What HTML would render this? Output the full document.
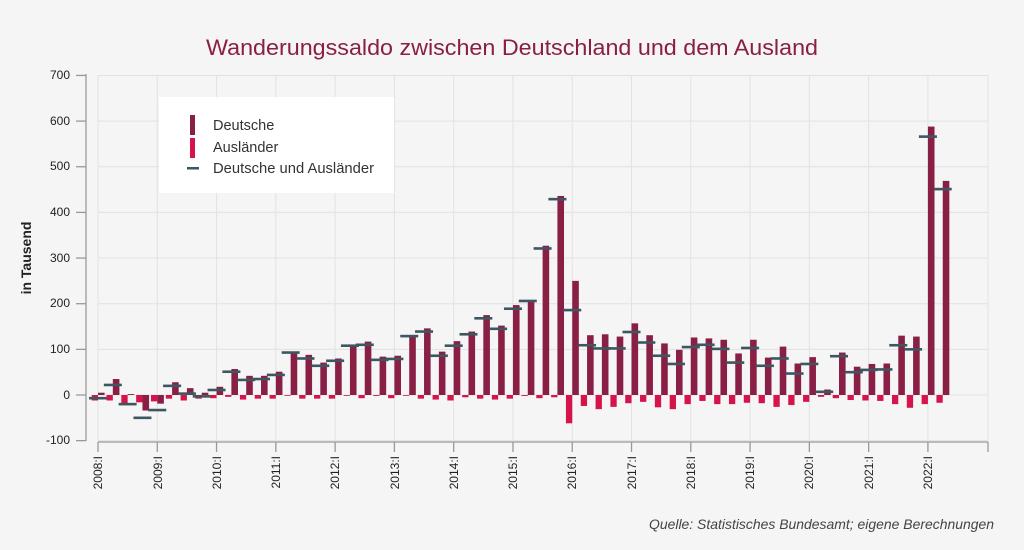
<!DOCTYPE html>
<html><head><meta charset="utf-8"><style>
html,body{margin:0;padding:0;background:#f5f5f5;}
svg{display:block;font-family:"Liberation Sans",sans-serif;}
</style></head><body>
<svg id="c" width="1024" height="550" viewBox="0 0 1024 550" xmlns="http://www.w3.org/2000/svg">
<rect width="1024" height="550" fill="#f5f5f5"/>
<g id="grid" stroke="#e2e2e2" stroke-width="1"></g>
<g id="bars"></g>
<text x="512" y="55" text-anchor="middle" font-size="22" textLength="612" lengthAdjust="spacingAndGlyphs" fill="#8a1f46">Wanderungssaldo zwischen Deutschland und dem Ausland</text>
<g font-size="12" fill="#222" text-anchor="end">
<text x="70" y="79">700</text><text x="70" y="125">600</text><text x="70" y="170">500</text><text x="70" y="216">400</text><text x="70" y="262">300</text><text x="70" y="307">200</text><text x="70" y="353">100</text><text x="70" y="399">0</text><text x="70" y="444">-100</text>
</g>
<text transform="translate(31,258) rotate(-90)" text-anchor="middle" font-size="14" font-weight="bold" fill="#222">in Tausend</text>
<g id="ax" stroke="#999" stroke-width="1.3" fill="none"></g>
<g font-size="12" fill="#222" text-anchor="end">
<text transform="translate(102,456) rotate(-90)">2008:I</text>
<text transform="translate(162,456) rotate(-90)">2009:I</text>
<text transform="translate(221,456) rotate(-90)">2010:I</text>
<text transform="translate(280,456) rotate(-90)">2011:I</text>
<text transform="translate(339,456) rotate(-90)">2012:I</text>
<text transform="translate(399,456) rotate(-90)">2013:I</text>
<text transform="translate(458,456) rotate(-90)">2014:I</text>
<text transform="translate(517,456) rotate(-90)">2015:I</text>
<text transform="translate(576,456) rotate(-90)">2016:I</text>
<text transform="translate(636,456) rotate(-90)">2017:I</text>
<text transform="translate(695,456) rotate(-90)">2018:I</text>
<text transform="translate(754,456) rotate(-90)">2019:I</text>
<text transform="translate(813,456) rotate(-90)">2020:I</text>
<text transform="translate(873,456) rotate(-90)">2021:I</text>
<text transform="translate(932,456) rotate(-90)">2022:I</text>
</g>
<rect x="159" y="97" width="235" height="96" fill="#fff"/>
<rect x="190" y="115" width="5" height="20" fill="#8a1f46"/>
<rect x="190" y="138" width="5" height="20" fill="#d4144a"/>
<rect x="187" y="167" width="12" height="2.5" fill="#3d5660"/>
<g font-size="14.5" fill="#333">
<text x="213" y="130">Deutsche</text>
<text x="213" y="152">Ausländer</text>
<text x="213" y="173" textLength="161" lengthAdjust="spacingAndGlyphs">Deutsche und Ausländer</text>
</g>
<text x="994" y="529" text-anchor="end" font-size="14" font-style="italic" textLength="345" lengthAdjust="spacingAndGlyphs" fill="#444">Quelle: Statistisches Bundesamt; eigene Berechnungen</text>
</svg>
<script>
var NS="http://www.w3.org/2000/svg";
function el(p,t,a){var e=document.createElementNS(NS,t);for(var k in a)e.setAttribute(k,a[k]);p.appendChild(e);return e;}
function Y(v){return 395-v*0.4565;}
var g=document.getElementById('grid');
for(var v=-100;v<=700;v+=100)el(g,'line',{x1:98,x2:988,y1:Y(v),y2:Y(v)});
for(var k=0;k<=15;k++){var x=98+59.28*k;if(k==15)x=988;el(g,'line',{x1:x,x2:x,y1:75,y2:441});}
var M=[5,35,2,-34,-19,28,15,5,18,57,42,42,51,95,88,71,80,110,117,84,86,128,146,95,118,139,175,152,197,207,327,436,250,131,133,128,157,131,113,99,126,124,121,91,121,82,106,69,83,12,93,62,68,69,130,128,588,469];
var R=[-12,-12,-22,-16,-14,-8,-12,-8,-7,-4,-10,-8,-8,-1,-8,-8,-8,-1,-7,-2,-7,-1,-8,-10,-12,-5,-8,-10,-8,-2,-7,-5,-62,-24,-31,-26,-18,-15,-27,-31,-20,-13,-20,-20,-17,-18,-26,-22,-15,-4,-7,-11,-12,-13,-20,-28,-20,-17];
var D=[-7,22,-20,-50,-33,20,3,-3,11,51,33,35,44,93,80,64,75,108,110,77,79,129,139,86,108,133,168,145,189,206,321,429,186,109,102,102,138,115,86,68,105,110,101,71,103,64,80,47,68,7,85,50,55,56,109,100,566,451];
var b=document.getElementById('bars');
for(var i=0;i<58;i++){
 var c=98+14.82*i;
 function bar(x,w,v,col){var y0=Y(0),y1=Y(v);el(b,'rect',{x:x,y:Math.min(y0,y1),width:w,height:Math.max(0.8,Math.abs(y1-y0)),fill:col});}
 bar(c-6.3,6.3,R[i],'#d4144a');
 bar(c,6.6,M[i],'#8a1f46');
 el(b,'rect',{x:c-9,y:Y(D[i])-1.3,width:18,height:2.6,fill:'#3d5660'});
}
var a=document.getElementById('ax');
el(a,'line',{x1:86,x2:86,y1:74,y2:441});
for(var v=-100;v<=700;v+=100)el(a,'line',{x1:76,x2:86,y1:Y(v),y2:Y(v)});
el(a,'line',{x1:98,x2:988,y1:442,y2:442});
for(var k=0;k<=15;k++){var x=98+59.28*k;if(k==15)x=988;el(a,'line',{x1:x,x2:x,y1:442,y2:452});}
</script>
</body></html>
